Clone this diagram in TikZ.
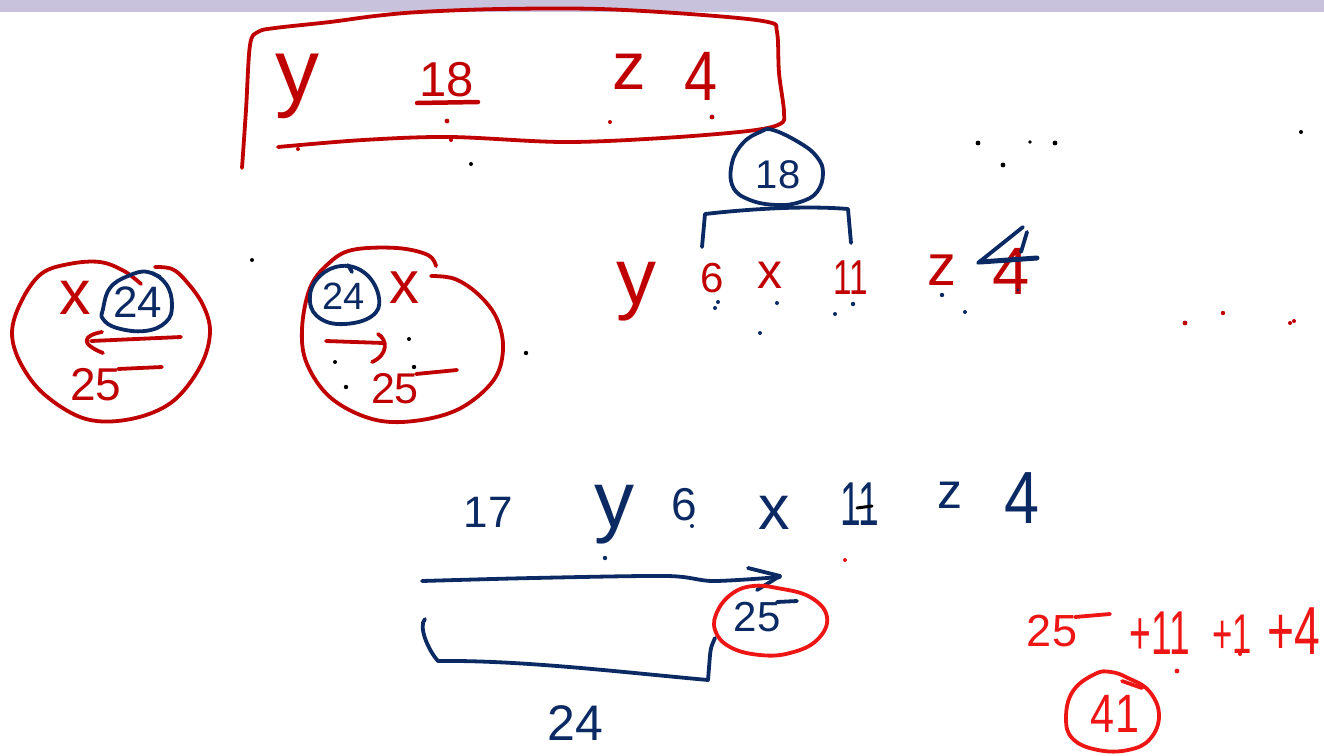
\documentclass[tikz,border=0pt]{standalone}
\usepackage{fontspec}
\setmainfont{Liberation Sans}
\usepackage{graphicx}
\definecolor{dred}{HTML}{C00000}
\definecolor{navy}{HTML}{0B2A64}
\definecolor{bred}{HTML}{EE1515}
\definecolor{band}{HTML}{C9C2DC}
\newcommand\hsz[1]{\fontsize{#1}{#1}\selectfont}
\tikzset{
  ink/.style={line width=3.8pt, line cap=round, line join=round},
  dr/.style={ink, draw=dred},
  nv/.style={ink, draw=navy},
  br/.style={ink, draw=bred},
  txt/.style={inner sep=0pt, anchor=center},
}
\begin{document}
\begin{tikzpicture}[x=1pt,y=-1pt]
\useasboundingbox (0,0) rectangle (1324,755);
\fill[white] (0,0) rectangle (1324,755);
\fill[band] (0,0) rectangle (1324,12);

% ---------- top box ----------
\draw[dr] plot[smooth, tension=0.55] coordinates {(242,168) (246,110) (250,45) (258,32) (275,28) (330,22) (375,16) (420,12) (500,9) (600,9) (703,15) (768,22) (777,32) (779,73) (784,112) (780,124) (748,131) (663,138) (563,142) (450,137) (363,140) (278,147)};
\node[txt, text=dred, font=\hsz{88}] (ty) at (297,86) {y};
\node[txt, text=dred, font=\hsz{49}] (t18) at (447,80) {18};
\draw[dr, line width=4.5pt] (417,103) -- (478,102);
\node[txt, text=dred, font=\hsz{67}] (tz) at (629,72) {z};
\node[txt, text=dred, font=\hsz{70}] (t4) at (701,76) {\scalebox{0.85}[1]{4}};
\fill[dred] (447,121) circle (2.4pt) (610,122) circle (2pt) (712,117) circle (2.4pt) (298,149) circle (2pt) (451,140) circle (2pt);

% ---------- 18 circle with bracket ----------
\draw[nv] plot[smooth cycle, tension=0.7] coordinates {(773,130) (800,143) (817,157) (823,173) (817,192) (800,202) (777,205) (750,200) (733,187) (732,163) (743,143) (760,132)};
\node[txt, text=navy, font=\hsz{40}] (c18) at (778,175) {18};
\draw[nv] (702,247) -- (705,214) .. controls (740,210) and (800,205) .. (848,209) -- (851,243);

% ---------- red row ----------
\node[txt, text=dred, font=\hsz{80}] (ry) at (636,292) {y};
\node[txt, text=dred, font=\hsz{42}] (r6) at (712,278) {6};
\node[txt, text=dred, font=\hsz{50}] (rx) at (770,275) {x};
\node[txt, text=dred, font=\hsz{49}] (r11) at (851,278) {\scalebox{0.68}[1]{11}};
\node[txt, text=dred, font=\hsz{58}] (rz) at (942,270) {z};
\node[txt, text=dred, font=\hsz{67}] (r4) at (1011,271) {4};
\draw[nv] (978,263) -- (1023,227);
\draw[nv] (1027,232) -- (1021,252);
\draw[nv, line width=5pt] (980,262) -- (1037,258);
\fill[navy] (715,308) circle (2pt) (718,302) circle (2pt) (777,303) circle (2pt) (760,333) circle (2pt) (835,314) circle (2pt) (853,304) circle (2.2pt) (942,295) circle (2.2pt) (965,312) circle (2pt) (1018,290) circle (1.6pt);

% ---------- black dots ----------
\fill[black] (471,164) circle (2pt) (252,260) circle (2pt) (409,339) circle (2pt) (335,362) circle (2pt) (414,367) circle (2.2pt) (346,387) circle (2.2pt) (526,353) circle (2.2pt) (978,143) circle (2.4pt) (1030,142) circle (1.8pt) (1055,143) circle (2.4pt) (1003,165) circle (2.4pt) (1301,132) circle (2pt);
\fill[dred] (1185,323) circle (2.4pt) (1223,313) circle (2.2pt) (1290,323) circle (2pt) (1294,321) circle (2pt);

% ---------- left circle ----------
\draw[dr] plot[smooth, tension=0.6] coordinates {(141,284) (124,271) (100,262) (69,264) (41,274) (21,302) (12,333) (21,364) (45,395) (86,419) (131,419) (172,402) (200,367) (210,333) (203,305) (186,281) (172,269) (155,267)};
\node[txt, text=dred, font=\hsz{63}] (lx) at (75,298) {x};
\draw[nv] plot[smooth cycle, tension=0.7] coordinates {(103,309) (110,288) (128,276) (148,272) (166,284) (172,305) (166,322) (145,331) (117,328) (103,319)};
\draw[nv] (152,273) -- (160,277);
\node[txt, text=navy, font=\hsz{44}] (l24) at (138,302) {24};
\draw[dr] (181,337) -- (91,341);
\draw[dr] (102,332) .. controls (85,335) and (78,343) .. (103,353);
\node[txt, text=dred, font=\hsz{46}] (l25) at (96,385) {25};
\draw[dr] (118,369) -- (162,367);

% ---------- right circle ----------
\draw[dr] plot[smooth, tension=0.6] coordinates {(436,266) (428,255) (397,248) (352,250) (328,264) (310,288) (302,329) (307,364) (331,398) (372,419) (414,421) (459,409) (493,381) (503,350) (497,319) (479,295) (455,279) (431,276)};
\draw[nv] plot[smooth cycle, tension=0.7] coordinates {(310,302) (317,279) (341,266) (366,274) (379,298) (372,316) (345,324) (321,319)};
\draw[nv] (348,265) -- (352,272);
\node[txt, text=navy, font=\hsz{38}] (r24) at (344,296) {24};
\node[txt, text=dred, font=\hsz{60}] (rxx) at (404,288) {x};
\draw[dr] (326,341) -- (383,343);
\draw[dr] (378,334) .. controls (388,340) and (388,355) .. (372,362);
\node[txt, text=dred, font=\hsz{43}] (r25) at (395,389) {25};
\draw[dr] (416,374) -- (457,370);

% ---------- bottom row ----------
\node[txt, text=navy, font=\hsz{44}] (b17) at (488,512) {17};
\node[txt, text=navy, font=\hsz{80}] (by) at (614,515) {y};
\node[txt, text=navy, font=\hsz{46}] (b6) at (684,505) {6};
\node[txt, text=navy, font=\hsz{63}] (bx) at (774,513) {x};
\node[txt, text=navy, font=\hsz{62}] (b11) at (860,504) {\scalebox{0.6}[1]{11}};
\draw[ink, line width=3pt, draw=black] (857,508) -- (872,506);
\node[txt, text=navy, font=\hsz{50}] (bz) at (950,495) {z};
\node[txt, text=navy, font=\hsz{74}] (b4) at (1022,498) {\scalebox{0.85}[1]{4}};
\fill[navy] (605,558) circle (2.2pt) (692,526) circle (2pt);
\fill[bred] (845,560) circle (2pt);

\draw[nv] plot[smooth, tension=0.5] coordinates {(422,581) (533,578) (667,576) (713,581) (780,577)};
\draw[nv] (748,568) -- (780,576) -- (757,590);

\draw[br] plot[smooth cycle, tension=0.7] coordinates {(777,588) (810,597) (827,617) (817,640) (790,653) (760,655) (730,647) (715,630) (718,610) (733,593) (753,586)};
\node[txt, text=navy, font=\hsz{42}] (b25) at (757,617) {25};
\draw[nv] (777,602) -- (797,601);

\draw[nv] (425,619) .. controls (418,626) and (428,650) .. (438,661) .. controls (520,660) and (620,672) .. (708,680) -- (710,655) .. controls (711,647) .. (715,638);
\node[txt, text=navy, font=\hsz{50}] (b24) at (575,723) {24};

% ---------- bottom right sum ----------
\node[txt, text=bred, font=\hsz{45}] (s25) at (1052,631) {25};
\draw[br] (1075,617) -- (1110,614);
\node[txt, text=bred, font=\hsz{62}] (s11) at (1160,633) {\scalebox{0.6}[1]{+11}};
\node[txt, text=bred, font=\hsz{56}] (s1) at (1232,634) {\scalebox{0.62}[1]{+1}};
\node[txt, text=bred, font=\hsz{68}] (s4) at (1294,631) {\scalebox{0.68}[1]{+4}};
\fill[bred] (1177,671) circle (2.4pt) (1240,654) circle (2pt);
\draw[br] plot[smooth cycle, tension=0.7] coordinates {(1128,678) (1149,691) (1159,715) (1150,739) (1128,750) (1098,750) (1073,739) (1066,718) (1073,691) (1095,674) (1111,672)};
\draw[br] (1122,681) -- (1142,688);
\node[txt, text=bred, font=\hsz{54}] (s41) at (1115,714) {\scalebox{0.8}[1]{41}};
\end{tikzpicture}
\end{document}
